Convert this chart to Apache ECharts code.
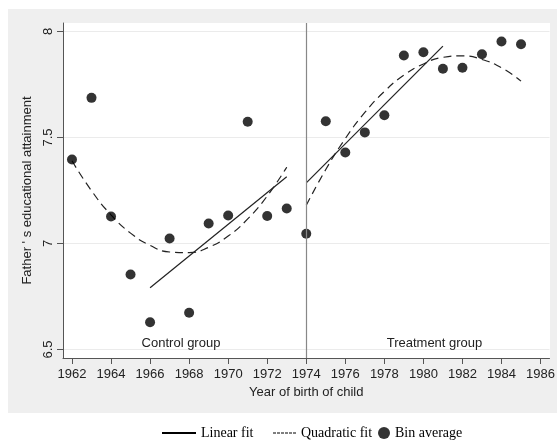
<!DOCTYPE html>
<html>
<head>
<meta charset="utf-8">
<script src="https://cdn.jsdelivr.net/npm/echarts@6/dist/echarts.min.js"></script>
<style>html,body{margin:0;padding:0;background:#fff}#c{width:558px;height:440px}</style>
</head>
<body>
<div id="c"></div>
<script>
// Bin averages
var binYears = [1962,1963,1964,1965,1966,1967,1968,1969,1970,1971,1972,1973,1974,1975,1976,1977,1978,1979,1980,1981,1982,1983,1984,1985];
var binValues = [7.396,7.687,7.127,6.854,6.629,7.024,6.673,7.094,7.132,7.574,7.130,7.165,7.046,7.577,7.429,7.524,7.605,7.887,7.902,7.824,7.829,7.893,7.953,7.940];
// Linear fits (endpoints)
var linCtrlYears = [1966,1973];
var linCtrlValues = [6.791,7.315];
var linTreatYears = [1974,1981];
var linTreatValues = [7.286,7.931];
// Quadratic fits (read at each year)
var quadCtrlYears = [1962,1963,1964,1965,1966,1967,1968,1969,1970,1971,1972,1973];
var quadCtrlValues = [7.390,7.249,7.135,7.049,6.991,6.960,6.957,6.982,7.035,7.116,7.224,7.360];
var quadTreatYears = [1974,1975,1976,1977,1978,1979,1980,1981,1982,1983,1984,1985];
var quadTreatValues = [7.180,7.349,7.495,7.618,7.717,7.794,7.847,7.878,7.885,7.868,7.829,7.766];
// Ticks
var xTicks = [1962,1964,1966,1968,1970,1972,1974,1976,1978,1980,1982,1984,1986];
var yTicks = [6.5,7,7.5,8];
var cutoffYear = 1974;

function pairs(xs, ys){ return xs.map(function(x,i){ return [x, ys[i]]; }); }

var chart = echarts.init(document.getElementById('c'), null, {renderer:'canvas'});
var axisCol = '#555';
var txtCol = '#222';
var legendFont = {fontFamily:'Liberation Serif', fontSize:14, color:'#000'};
var dashIcon = 'path://M0,0h3v1h-3z M4,0h3v1h-3z M8,0h3v1h-3z M12,0h3v1h-3z M16,0h3v1h-3z M20,0h3v1h-3z';
var option = {
  backgroundColor:'#fff',
  animation:false,
  graphic:[
    {type:'rect', z:-10, shape:{x:8,y:9,width:549,height:404}, style:{fill:'#efefef'}},
    {type:'rect', z:-9, shape:{x:63,y:23,width:487,height:335}, style:{fill:'#fff'}},
    {type:'text', z:5, x:181, y:343, style:{text:'Control group', fill:txtCol, font:'13px "Liberation Sans"', align:'center', verticalAlign:'middle'}},
    {type:'text', z:5, x:434.5, y:343, style:{text:'Treatment group', fill:txtCol, font:'13px "Liberation Sans"', align:'center', verticalAlign:'middle'}}
  ],
  grid:{left:63, right:8, top:23, bottom:82, containLabel:false},
  xAxis:{
    type:'value', min:1961.54, max:1986.46,
    name:'Year of birth of child', nameLocation:'middle', nameGap:25,
    nameTextStyle:{fontFamily:'Liberation Sans', fontSize:13, color:txtCol},
    axisLine:{show:true, lineStyle:{color:axisCol, width:1}},
    axisTick:{show:true, length:6, lineStyle:{color:axisCol}, customValues:xTicks},
    axisLabel:{customValues:xTicks, margin:10, fontFamily:'Liberation Sans', fontSize:13, color:txtCol,
      formatter:function(v){ return String(Math.round(v)); }},
    splitLine:{show:false}
  },
  yAxis:{
    type:'value', min:6.46, max:8.04,
    name:"Father ' s educational attainment", nameLocation:'middle', nameGap:22,
    nameTextStyle:{fontFamily:'Liberation Sans', fontSize:13, color:txtCol},
    axisLine:{show:true, lineStyle:{color:axisCol, width:1}},
    axisTick:{show:true, length:6, lineStyle:{color:axisCol}, customValues:yTicks},
    axisLabel:{customValues:yTicks, rotate:90, margin:8, fontFamily:'Liberation Sans', fontSize:13, color:txtCol},
    splitLine:{show:true, lineStyle:{color:'#ebebeb', width:1}}
  },
  legend:[
    {data:[{name:'Linear fit', icon:'rect', itemStyle:{color:'#000'}}], left:157, top:421, itemWidth:34, itemHeight:2, itemGap:0, textStyle:legendFont},
    {data:[{name:'Quadratic fit', icon:dashIcon, itemStyle:{color:'#000'}}], left:268, top:421, itemWidth:23, itemHeight:1, itemGap:0, textStyle:legendFont},
    {data:[{name:'Bin average', icon:'circle', itemStyle:{color:'#000'}}], left:373, top:421, itemWidth:12, itemHeight:12, itemGap:0, textStyle:legendFont}
  ],
  series:[
    {name:'Linear fit', type:'line', data:pairs(linCtrlYears, linCtrlValues), symbol:'none', lineStyle:{color:'#222', width:1.2}, itemStyle:{color:'#222'}, z:3,
     markLine:{silent:true, symbol:'none', label:{show:false}, lineStyle:{color:'#888', type:'solid', width:1.2}, data:[{xAxis:cutoffYear}]}},
    {name:'Linear fit', type:'line', data:pairs(linTreatYears, linTreatValues), symbol:'none', lineStyle:{color:'#222', width:1.2}, itemStyle:{color:'#222'}, z:3},
    {name:'Quadratic fit', type:'line', data:pairs(quadCtrlYears, quadCtrlValues), symbol:'none', smooth:true, lineStyle:{color:'#222', width:1.2, type:[8,5]}, itemStyle:{color:'#222'}, z:3},
    {name:'Quadratic fit', type:'line', data:pairs(quadTreatYears, quadTreatValues), symbol:'none', smooth:true, lineStyle:{color:'#222', width:1.2, type:[8,5]}, itemStyle:{color:'#222'}, z:3},
    {name:'Bin average', type:'scatter', data:pairs(binYears, binValues), symbol:'circle', symbolSize:10, itemStyle:{color:'#000'}, z:4}
  ]
};
chart.setOption(option);
</script>
</body>
</html>
